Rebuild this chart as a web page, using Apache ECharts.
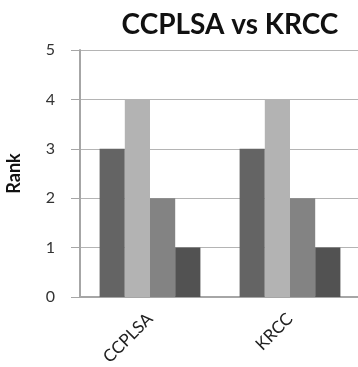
<!DOCTYPE html>
<html>
<head>
<meta charset="utf-8">
<script src="https://cdn.jsdelivr.net/npm/echarts@6/dist/echarts.min.js"></script>
<style>html,body{margin:0;padding:0;background:#fff;}#c{width:358px;height:367px;}</style>
</head>
<body>
<div id="c"></div>
<script>
var titleText = 'CCPLSA vs KRCC';
var yAxisName = 'Rank';
var categories = ['CCPLSA', 'KRCC'];
var series1 = [3, 3];
var series2 = [4, 4];
var series3 = [2, 2];
var series4 = [1, 1];
var colors = ['#646464', '#b3b3b3', '#838383', '#525252'];

var chart = echarts.init(document.getElementById('c'));
var font = 'Lato';
var seriesData = [series1, series2, series3, series4];
chart.setOption({
  animation: false,
  title: {
    text: titleText,
    left: 225, top: 6, textAlign: 'center',
    textStyle: {fontFamily: font, fontWeight: 'bold', fontSize: 28, color: '#111'}
  },
  grid: {left: 80, top: 50, width: 280, bottom: 70, containLabel: false, outerBoundsMode: 'none'},
  xAxis: {
    type: 'category', data: categories,
    axisLine: {lineStyle: {color: '#a6a6a6', width: 2}},
    axisTick: {show: false},
    axisLabel: {rotate: 45, margin: 19, fontFamily: font, fontSize: 17, color: '#222'}
  },
  yAxis: {
    type: 'value', min: 0, max: 5, interval: 1,
    name: yAxisName, nameLocation: 'middle', nameGap: 57, nameRotate: 90,
    nameTextStyle: {fontFamily: font, fontSize: 18, fontWeight: 'bold', color: '#111'},
    axisLine: {show: true, lineStyle: {color: '#a6a6a6', width: 2}},
    axisTick: {show: true, length: 9, lineStyle: {color: '#a6a6a6'}},
    axisLabel: {margin: 25, fontFamily: font, fontSize: 16, color: '#333'},
    splitLine: {lineStyle: {color: '#b4b4b4', width: 1}}
  },
  series: seriesData.map(function (d, i) {
    return {type: 'bar', data: d, barGap: '0%', barCategoryGap: '28%',
      itemStyle: {color: colors[i]}};
  })
});
</script>
</body>
</html>
